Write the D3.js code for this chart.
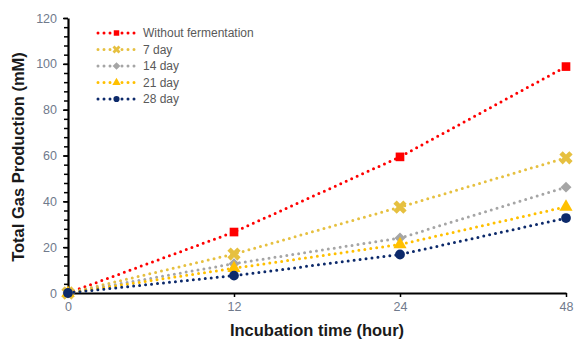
<!DOCTYPE html>
<html>
<head>
<meta charset="utf-8">
<script src="https://cdn.jsdelivr.net/npm/d3@7"></script>
<style>
  body { margin: 0; background: #fff; }
  text { font-family: "Liberation Sans", Arial, sans-serif; }
</style>
</head>
<body>
<svg id="chart" width="574" height="344"></svg>
<script>
var hours = ["0", "12", "24", "48"];
var seriesNames = ["Without fermentation", "7 day", "14 day", "21 day", "28 day"];
var noFerm = [0, 26.6, 59.4, 98.8];
var day7 = [0, 17, 37.5, 59];
var day14 = [0, 12.8, 24, 46.2];
var day21 = [0, 10.8, 21.2, 37.6];
var day28 = [0, 7.6, 16.8, 32.7];
var yTicks = [0, 20, 40, 60, 80, 100, 120];

var colors = ["#ff0000", "#e6c040", "#a5a5a5", "#ffc000", "#0d2a6b"];
var symbols = [d3.symbolSquare, d3.symbolCross, d3.symbolSquare, d3.symbolTriangle, d3.symbolCircle];
var rotations = [0, 45, 45, 0, 0];
var allSeries = [noFerm, day7, day14, day21, day28];

var svg = d3.select("#chart");
var margin = { top: 18, right: 8, bottom: 51, left: 68 };
var width = 574, height = 344;

var x = d3.scalePoint()
  .domain(hours)
  .range([margin.left, width - margin.right]);

var y = d3.scaleLinear()
  .domain([0, 120])
  .range([height - margin.bottom, margin.top]);

// minor ticks on y
var yMinor = svg.append("g")
  .attr("transform", `translate(${margin.left},0)`)
  .call(d3.axisLeft(y).tickValues(d3.range(0, 121, 4)).tickSize(4).tickFormat(""));
yMinor.select(".domain").remove();
yMinor.selectAll("line").attr("stroke", "#000").attr("stroke-width", 1.5);

var yAxis = svg.append("g")
  .attr("transform", `translate(${margin.left},0)`)
  .call(d3.axisLeft(y).tickValues(yTicks).tickSize(5).tickSizeOuter(0).tickPadding(6));
yAxis.select(".domain").attr("stroke", "#000").attr("stroke-width", 2.2);
yAxis.selectAll("line").attr("stroke", "#000").attr("stroke-width", 1.5);
yAxis.selectAll("text").attr("fill", "#707a8c").style("font-size", "12.5px");

var xAxis = svg.append("g")
  .attr("transform", `translate(0,${height - margin.bottom})`)
  .call(d3.axisBottom(x).tickSize(4).tickSizeOuter(0).tickPadding(5));
xAxis.select(".domain").attr("stroke", "#000").attr("stroke-width", 2.2);
xAxis.selectAll("line").attr("stroke", "#000").attr("stroke-width", 1.5);
xAxis.selectAll(".tick").filter(d => d == "0").select("line").remove();
xAxis.selectAll("text").attr("fill", "#707a8c").style("font-size", "12.5px");

svg.append("text")
  .attr("x", 317)
  .attr("y", 336)
  .attr("text-anchor", "middle")
  .style("font-size", "16.5px")
  .style("font-weight", "bold")
  .attr("fill", "#1a1a1a")
  .text("Incubation time (hour)");

svg.append("text")
  .attr("transform", "translate(24,157) rotate(-90)")
  .attr("text-anchor", "middle")
  .style("font-size", "16.5px")
  .style("font-weight", "bold")
  .attr("fill", "#1a1a1a")
  .text("Total Gas Production (mM)");

var line = d3.line()
  .x((d, i) => x(hours[i]))
  .y(d => y(d));

allSeries.forEach(function (vals, s) {
  var g = svg.append("g");
  g.append("path")
    .attr("d", line(vals))
    .attr("fill", "none")
    .attr("stroke", colors[s])
    .attr("stroke-width", 3)
    .attr("stroke-linecap", "round")
    .attr("stroke-dasharray", "0 6");
  g.selectAll("path.mark")
    .data(vals)
    .enter().append("path")
    .attr("class", "mark")
    .attr("transform", (d, i) => `translate(${x(hours[i])},${y(d)}) rotate(${rotations[s]})`)
    .attr("d", d3.symbol().type(symbols[s]).size(s == 1 ? 110 : s == 2 ? 60 : 75))
    .attr("fill", colors[s]);
});

// legend
var legend = svg.append("g").attr("transform", "translate(98,33)");
seriesNames.forEach(function (name, i) {
  var row = legend.append("g").attr("transform", `translate(0,${i * 16.5})`);
  row.append("line")
    .attr("x1", 0).attr("x2", 37)
    .attr("stroke", colors[i])
    .attr("stroke-width", 3)
    .attr("stroke-linecap", "round")
    .attr("stroke-dasharray", "0 6");
  row.append("path")
    .attr("transform", `translate(18.5,0) rotate(${rotations[i]})`)
    .attr("d", d3.symbol().type(symbols[i]).size(i == 1 ? 40 : 30))
    .attr("fill", colors[i]);
  row.append("text")
    .attr("x", 45)
    .attr("y", 4)
    .style("font-size", "12px")
    .attr("fill", "#595959")
    .text(name);
});
</script>
</body>
</html>
